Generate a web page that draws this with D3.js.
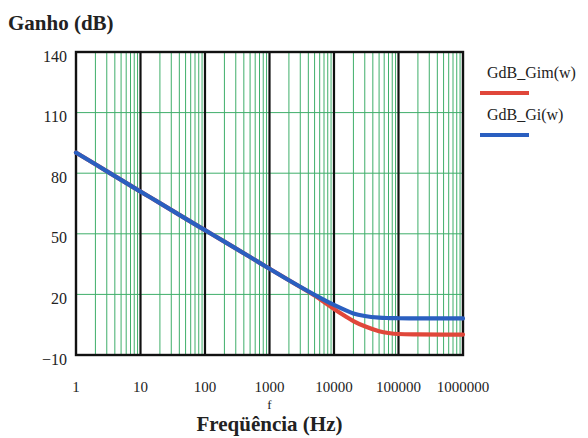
<!DOCTYPE html>
<html>
<head>
<meta charset="utf-8">
<script src="https://cdn.jsdelivr.net/npm/d3@7"></script>
<style>
  html, body { margin: 0; padding: 0; background: #fff; }
  svg { display: block; }
</style>
</head>
<body>
<svg id="chart" width="588" height="438"></svg>
<script>
// Frequency points (Hz) and gain curves (dB)
const freqs   = [1, 2, 5, 10, 20, 50, 100, 200, 500, 1000, 2000, 5000, 10000, 15000, 20000, 30000, 50000, 70000, 100000, 200000, 500000, 1000000];
const gdbGim  = [90.2, 84.4, 76.7, 70.9, 65.2, 57.5, 51.8, 46.1, 38.5, 32.7, 27.0, 19.4, 12.8, 9.2, 6.8, 4.2, 1.8, 0.9, 0.4, 0.2, 0.1, 0.1];
const gdbGi   = [90.2, 84.4, 76.7, 70.9, 65.2, 57.5, 51.8, 46.1, 38.5, 32.7, 27.0, 19.8, 14.8, 12.2, 10.6, 9.3, 8.5, 8.3, 8.2, 8.1, 8.1, 8.1];
const xTicks  = [1, 10, 100, 1000, 10000, 100000, 1000000];
const xLabels = ["1", "10", "100", "1000", "10000", "100000", "1000000"];
const yTicks  = [140, 110, 80, 50, 20, -10];
const yLabels = ["140", "110", "80", "50", "20", "\u221210"];
const seriesNames = ["GdB_Gim(w)", "GdB_Gi(w)"];
const seriesColors = ["#e0473a", "#2a5fc0"];

(function draw() {
  const FONT = "'Liberation Serif', 'DejaVu Serif', 'Times New Roman', Times, serif";
  const svg = d3.select("#chart");
  const plotL = 76, plotR = 463, plotT = 52, plotB = 355;

  const x = d3.scaleLog().domain([1, 1e6]).range([plotL, plotR]);
  const y = d3.scaleLinear().domain([-10, 140]).range([plotB, plotT]);

  const grid = svg.append("g");
  const green = "#3fae6a";

  // minor vertical grid: 2..9 within each decade
  const minor = [];
  for (let d = 0; d < 6; d++) {
    for (let m = 2; m <= 9; m++) minor.push(m * Math.pow(10, d));
  }
  grid.selectAll("line.minor").data(minor).enter().append("line")
    .attr("x1", d => x(d)).attr("x2", d => x(d))
    .attr("y1", plotT).attr("y2", plotB)
    .attr("stroke", green).attr("stroke-width", 1);

  // horizontal grid
  grid.selectAll("line.h").data(yTicks.slice(1, -1)).enter().append("line")
    .attr("x1", plotL).attr("x2", plotR)
    .attr("y1", d => y(d)).attr("y2", d => y(d))
    .attr("stroke", green).attr("stroke-width", 1);

  // decade lines
  grid.selectAll("line.dec").data(xTicks.slice(1, -1)).enter().append("line")
    .attr("x1", d => x(d)).attr("x2", d => x(d))
    .attr("y1", plotT).attr("y2", plotB)
    .attr("stroke", "#111").attr("stroke-width", 2.2);

  // frame
  svg.append("rect")
    .attr("x", plotL).attr("y", plotT)
    .attr("width", plotR - plotL).attr("height", plotB - plotT)
    .attr("fill", "none").attr("stroke", "#111").attr("stroke-width", 2.4);

  // curves
  const line = d3.line().x(d => x(d[0])).y(d => y(d[1])).curve(d3.curveMonotoneX);
  [gdbGim, gdbGi].forEach((vals, i) => {
    svg.append("path")
      .datum(freqs.map((f, k) => [f, vals[k]]))
      .attr("d", line)
      .attr("fill", "none")
      .attr("stroke", seriesColors[i])
      .attr("stroke-width", 4.2)
      .attr("stroke-linecap", "round")
      .attr("stroke-linejoin", "round");
  });

  const txt = (sel) => sel.style("font-family", FONT).attr("fill", "#222");

  // y tick labels
  svg.selectAll("text.yt").data(yTicks).enter().append("text")
    .attr("x", 67).attr("y", d => y(d) + 9.5)
    .attr("text-anchor", "end")
    .attr("font-size", 16)
    .call(txt)
    .text((d, i) => yLabels[i]);

  // x tick labels
  svg.selectAll("text.xt").data(xTicks).enter().append("text")
    .attr("x", d => x(d)).attr("y", 392)
    .attr("text-anchor", "middle")
    .attr("font-size", 15)
    .call(txt)
    .text((d, i) => xLabels[i]);

  // axis variable name
  svg.append("text").attr("x", x(1000)).attr("y", 409)
    .attr("text-anchor", "middle").attr("font-size", 13).call(txt).text("f");

  // titles
  svg.append("text").attr("x", 8).attr("y", 30)
    .attr("font-size", 21).attr("font-weight", "bold").call(txt).text("Ganho (dB)");
  svg.append("text").attr("x", x(1000)).attr("y", 431)
    .attr("text-anchor", "middle")
    .attr("font-size", 21).attr("font-weight", "bold").call(txt).text("Freqüência (Hz)");

  // legend
  const legend = svg.append("g");
  seriesNames.forEach((name, i) => {
    const by = 78 + i * 42;
    legend.append("text").attr("x", 487).attr("y", by)
      .attr("font-size", 16).call(txt).text(name);
    legend.append("line")
      .attr("x1", 480).attr("x2", 529)
      .attr("y1", by + 15).attr("y2", by + 15)
      .attr("stroke", seriesColors[i]).attr("stroke-width", 4);
  });
})();
</script>
</body>
</html>
